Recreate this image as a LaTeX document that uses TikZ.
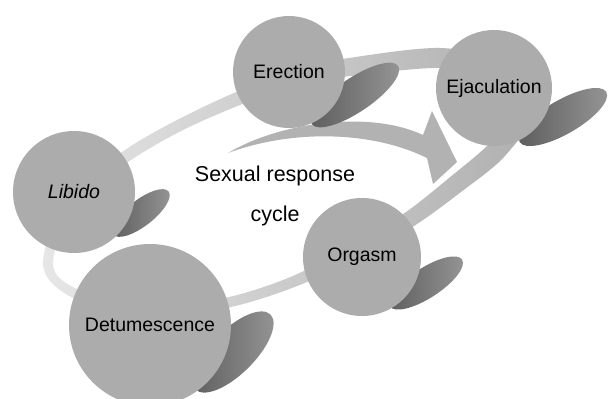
\documentclass[tikz,border=0pt]{standalone}
\usepackage{fontspec}
\setmainfont{Liberation Sans}
\usetikzlibrary{shapes.geometric}

\definecolor{stagegray}{RGB}{172,172,172}
\definecolor{ringlight}{RGB}{230,230,230}
\definecolor{ringdark}{RGB}{176,176,176}
\definecolor{arrowgray}{RGB}{178,178,178}
\definecolor{blobdark}{RGB}{92,92,92}
\definecolor{bloblight}{RGB}{150,150,150}

\begin{document}
\begin{tikzpicture}[x=1pt, y=-1pt,
    stage/.style={circle, fill=stagegray, inner sep=0pt, font=\fontsize{19.5}{22}\selectfont},
    blob/.style={ellipse, left color=blobdark, right color=bloblight, inner sep=0pt}
  ]
    \useasboundingbox (0,0) rectangle (608,399);
    % ring behind the stages: outer and inner edge, light on the left, darker on the right
    \shade[even odd rule, left color=ringlight, right color=ringdark]
      plot[smooth cycle] coordinates {
        (43,265) (66,197) (125,150) (177,120) (234,93) (298,69) (349,58)
        (440,48) (510,63) (532,113) (504,157) (461,192) (414,226)
        (353,261) (292,288) (231,307) (150,319) (73,298)}
      plot[smooth cycle] coordinates {
        (53,264) (74,203) (131,160) (183,130) (240,105) (302,83) (351,76)
        (440,68) (500,81) (512,111) (490,143) (449,178) (406,212)
        (347,249) (288,278) (229,297) (150,309) (77,289)};
    % middle arrow
    \fill[arrowgray] (228,153) .. controls (280,122) and (370,110) .. (423,135)
      -- (432,111) -- (457,162) -- (433,184) -- (427,158)
      .. controls (370,130) and (290,130) .. cycle;
    % shadows
    \node[blob, minimum width=104pt, minimum height=34pt, rotate=34] (erection-sh)     at (355,95)  {};
    \node[blob, minimum width=100pt, minimum height=34pt, rotate=30] (ejaculation-sh)  at (563,117) {};
    \node[blob, minimum width=70pt,  minimum height=26pt, rotate=38] (libido-sh)       at (141,213) {};
    \node[blob, minimum width=86pt,  minimum height=30pt, rotate=33] (orgasm-sh)       at (426,283) {};
    \node[blob, minimum width=106pt, minimum height=44pt, rotate=45] (detumescence-sh) at (233,352) {};
    % stages
    \node[stage, minimum size=112pt] (erection)     at (289,72)  {Erection};
    \node[stage, minimum size=116pt] (ejaculation)  at (494,88)  {Ejaculation};
    \node[stage, minimum size=122pt] (libido)       at (74,192)  {\itshape Libido};
    \node[stage, minimum size=118pt] (orgasm)       at (362,257) {Orgasm};
    \node[stage, minimum size=162pt] (detumescence) at (150,325) {Detumescence};
    % title
    \node[font=\fontsize{21.5}{24}\selectfont] (title)  at (275,176) {Sexual response};
    \node[font=\fontsize{21.5}{24}\selectfont] (title2) at (275,216) {cycle};
\end{tikzpicture}
\end{document}
